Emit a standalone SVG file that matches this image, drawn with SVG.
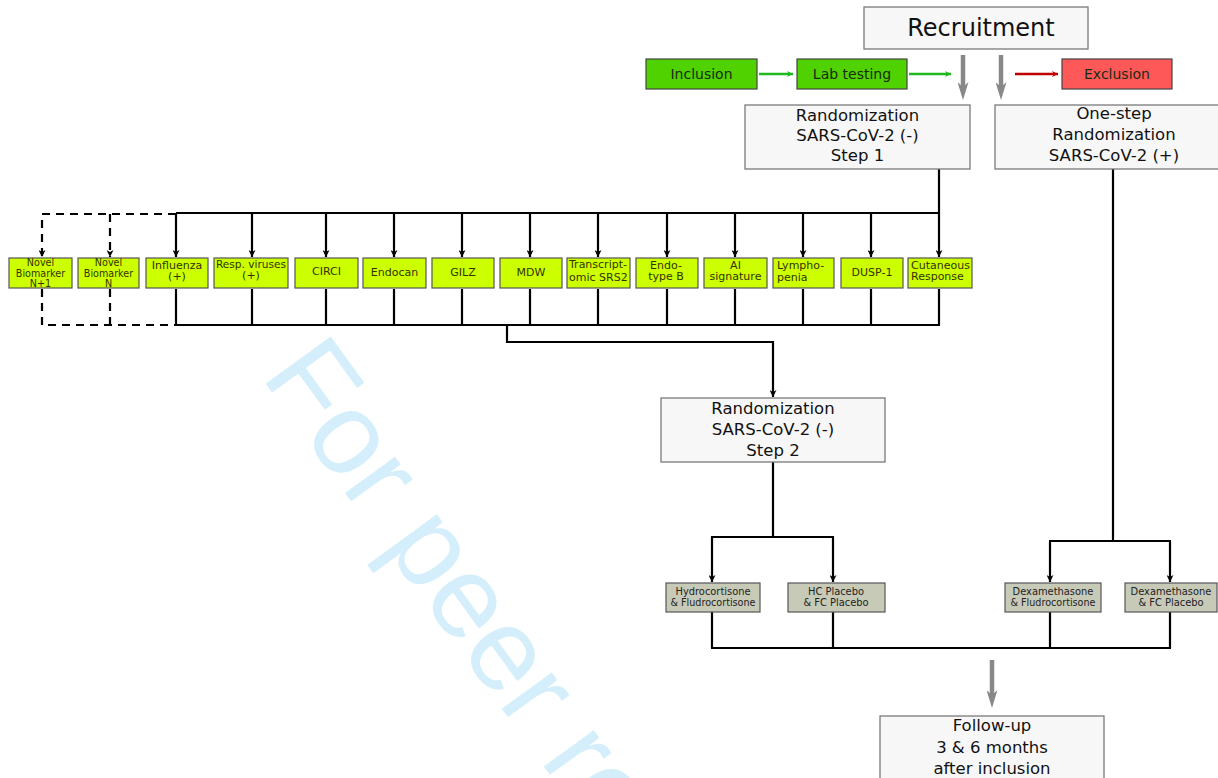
<svg xmlns="http://www.w3.org/2000/svg" width="1218" height="778" viewBox="0 0 1218 778">
<defs>
<style>
text{font-family:"DejaVu Sans","Verdana",sans-serif;}
.big{fill:#f7f7f7;stroke:#7a7a7a;stroke-width:1.3;}
.bt{font-size:16.5px;fill:#111;text-anchor:middle;}
.bio{fill:#ccff00;stroke:#555;stroke-width:1.2;}
.st{font-size:11px;fill:#333300;}
.nv{font-size:9.6px;fill:#333300;text-anchor:middle;}
.c{text-anchor:middle;}
.trt{fill:#c8cab8;stroke:#555;stroke-width:1.2;}
.tt{font-size:9.9px;fill:#222;text-anchor:middle;}
.grn{fill:#4fd200;stroke:#444;stroke-width:1.2;}
.red{fill:#ff5858;stroke:#444;stroke-width:1.2;}
.gt{font-size:14px;fill:#1a2a10;text-anchor:middle;}
.ln{fill:none;stroke:#000;stroke-width:2.2;}
.dash{fill:none;stroke:#000;stroke-width:2.2;stroke-dasharray:8,6;}
.gray{fill:none;stroke:#888;stroke-width:4.5;}
</style>
<marker id="ab" viewBox="0 0 10 10" refX="10" refY="5" markerWidth="9" markerHeight="7" markerUnits="userSpaceOnUse" orient="auto">
<path d="M0,0 L10,5 L0,10 L3,5 z" fill="#000"/>
</marker>
<marker id="ag" viewBox="0 0 10 10" refX="10" refY="5" markerWidth="9" markerHeight="6" markerUnits="userSpaceOnUse" orient="auto">
<path d="M0,0 L10,5 L0,10 L3,5 z" fill="#1fb81f"/>
</marker>
<marker id="ar" viewBox="0 0 10 10" refX="10" refY="5" markerWidth="9" markerHeight="6" markerUnits="userSpaceOnUse" orient="auto">
<path d="M0,0 L10,5 L0,10 L3,5 z" fill="#c00000"/>
</marker>
<marker id="agr" viewBox="0 0 18 11" refX="5" refY="5.5" markerWidth="18" markerHeight="11" markerUnits="userSpaceOnUse" orient="auto">
<path d="M0,0 L18,5.5 L0,11 L5,5.5 z" fill="#888"/>
</marker>
</defs>

<rect x="0" y="0" width="1218" height="778" fill="#fff"/>

<text x="260" y="376" transform="rotate(54 260 376)" style="font-family:'Liberation Sans',Arial,sans-serif;font-size:117px;fill:#d4effb;">For peer review</text>

<g id="connectors">
<line class="gray" x1="963" y1="55" x2="963" y2="87" marker-end="url(#agr)"/>
<line class="gray" x1="1001" y1="55" x2="1001" y2="87" marker-end="url(#agr)"/>
<line class="gray" x1="992" y1="660" x2="992" y2="695" marker-end="url(#agr)"/>
<line x1="759" y1="74" x2="793" y2="74" stroke="#1fb81f" stroke-width="2.5" marker-end="url(#ag)"/>
<line x1="909" y1="74" x2="951" y2="74" stroke="#1fb81f" stroke-width="2.5" marker-end="url(#ag)"/>
<line x1="1015" y1="74" x2="1058" y2="74" stroke="#c00000" stroke-width="2.5" marker-end="url(#ar)"/>

<path class="ln" d="M939,169 V213 M176,213 H940"/>
<line class="ln" x1="176" y1="213" x2="176" y2="257" marker-end="url(#ab)"/>
<line class="ln" x1="252" y1="213" x2="252" y2="257" marker-end="url(#ab)"/>
<line class="ln" x1="326" y1="213" x2="326" y2="257" marker-end="url(#ab)"/>
<line class="ln" x1="394" y1="213" x2="394" y2="257" marker-end="url(#ab)"/>
<line class="ln" x1="462" y1="213" x2="462" y2="257" marker-end="url(#ab)"/>
<line class="ln" x1="530" y1="213" x2="530" y2="257" marker-end="url(#ab)"/>
<line class="ln" x1="598" y1="213" x2="598" y2="257" marker-end="url(#ab)"/>
<line class="ln" x1="667" y1="213" x2="667" y2="257" marker-end="url(#ab)"/>
<line class="ln" x1="735" y1="213" x2="735" y2="257" marker-end="url(#ab)"/>
<line class="ln" x1="803" y1="213" x2="803" y2="257" marker-end="url(#ab)"/>
<line class="ln" x1="871" y1="213" x2="871" y2="257" marker-end="url(#ab)"/>
<line class="ln" x1="939" y1="213" x2="939" y2="257" marker-end="url(#ab)"/>

<path class="dash" d="M176,214 H42 V257" marker-end="url(#ab)"/>
<line class="dash" x1="110" y1="214" x2="110" y2="257" marker-end="url(#ab)"/>
<path class="dash" d="M42,289 V325 H176 M110,289 V325"/>

<path class="ln" d="M176,289 V325 M252,289 V325 M326,289 V325 M394,289 V325 M462,289 V325 M530,289 V325 M598,289 V325 M667,289 V325 M735,289 V325 M803,289 V325 M871,289 V325 M939,289 V325 M175,325 H940"/>
<path class="ln" d="M507,325 V342 H773 V397" marker-end="url(#ab)"/>

<path class="ln" d="M773,462 V537 M711,537 H834"/>
<line class="ln" x1="712" y1="537" x2="712" y2="582" marker-end="url(#ab)"/>
<line class="ln" x1="833" y1="537" x2="833" y2="582" marker-end="url(#ab)"/>
<path class="ln" d="M1113,169 V541 M1049,541 H1171"/>
<line class="ln" x1="1050" y1="541" x2="1050" y2="582" marker-end="url(#ab)"/>
<line class="ln" x1="1170" y1="541" x2="1170" y2="582" marker-end="url(#ab)"/>
<path class="ln" d="M712,612 V648 M833,612 V648 M1050,612 V648 M1170,612 V648 M711,648 H1171"/>
</g>

<g id="recruitment">
<rect class="big" x="864" y="7" width="224" height="42"/>
<text x="981" y="36" style="font-size:24px;fill:#111;text-anchor:middle;">Recruitment</text>
</g>
<g id="inclusion">
<rect class="grn" x="646" y="59" width="111" height="30"/>
<text class="gt" x="701.5" y="79">Inclusion</text>
</g>
<g id="lab-testing">
<rect class="grn" x="797" y="59" width="110" height="30"/>
<text class="gt" x="852" y="79">Lab testing</text>
</g>
<g id="exclusion">
<rect class="red" x="1062" y="59" width="110" height="30"/>
<text class="gt" x="1117" y="79">Exclusion</text>
</g>

<g id="randomization-step1">
<rect class="big" x="745" y="105" width="225" height="64"/>
<text class="bt" x="857.5" y="121">Randomization</text>
<text class="bt" x="857.5" y="141">SARS-CoV-2 (-)</text>
<text class="bt" x="857.5" y="161">Step 1</text>
</g>
<g id="one-step-randomization">
<rect class="big" x="995" y="105" width="240" height="64"/>
<text class="bt" x="1114" y="119">One-step</text>
<text class="bt" x="1114" y="140">Randomization</text>
<text class="bt" x="1114" y="161">SARS-CoV-2 (+)</text>
</g>

<g id="novel-biomarker-n1">
<rect class="bio" x="9" y="258" width="63" height="30"/>
<text class="nv" x="40.5" y="266">Novel</text>
<text class="nv" x="40.5" y="276.5">Biomarker</text>
<text class="nv" x="40.5" y="287">N+1</text>
</g>
<g id="novel-biomarker-n">
<rect class="bio" x="78" y="258" width="61" height="30"/>
<text class="nv" x="108.5" y="266">Novel</text>
<text class="nv" x="108.5" y="276.5">Biomarker</text>
<text class="nv" x="108.5" y="287">N</text>
</g>
<g id="influenza">
<rect class="bio" x="146" y="258" width="62" height="30"/>
<text class="st c" x="177" y="269">Influenza</text>
<text class="st c" x="177" y="280">(+)</text>
</g>
<g id="resp-viruses">
<rect class="bio" x="214" y="258" width="74" height="30"/>
<text class="st c" x="251" y="268" style="font-size:10.6px">Resp. viruses</text>
<text class="st c" x="251" y="279">(+)</text>
</g>
<g id="circi">
<rect class="bio" x="295" y="258" width="63" height="30"/>
<text class="st c" x="326.5" y="275">CIRCI</text>
</g>
<g id="endocan">
<rect class="bio" x="363" y="258" width="63" height="30"/>
<text class="st c" x="394.5" y="276">Endocan</text>
</g>
<g id="gilz">
<rect class="bio" x="432" y="258" width="62" height="30"/>
<text class="st c" x="463" y="276">GILZ</text>
</g>
<g id="mdw">
<rect class="bio" x="500" y="258" width="62" height="30"/>
<text class="st c" x="531" y="276">MDW</text>
</g>
<g id="transcriptomic-srs2">
<rect class="bio" x="567" y="258" width="63" height="30"/>
<text class="st" x="569" y="268">Transcript-</text>
<text class="st" x="569" y="281">omic SRS2</text>
</g>
<g id="endotype-b">
<rect class="bio" x="636" y="258" width="62" height="30"/>
<text class="st c" x="666" y="269">Endo-</text>
<text class="st c" x="666" y="280">type B</text>
</g>
<g id="ai-signature">
<rect class="bio" x="704" y="258" width="63" height="30"/>
<text class="st c" x="735.5" y="269">AI</text>
<text class="st c" x="735.5" y="280">signature</text>
</g>
<g id="lymphopenia">
<rect class="bio" x="773" y="258" width="61" height="30"/>
<text class="st" x="777" y="268.5">Lympho-</text>
<text class="st" x="777" y="281">penia</text>
</g>
<g id="dusp-1">
<rect class="bio" x="841" y="258" width="62" height="30"/>
<text class="st c" x="872" y="276">DUSP-1</text>
</g>
<g id="cutaneous-response">
<rect class="bio" x="908" y="258" width="64" height="30"/>
<text class="st" x="911" y="269">Cutaneous</text>
<text class="st" x="911" y="280">Response</text>
</g>

<g id="randomization-step2">
<rect class="big" x="661" y="398" width="224" height="64"/>
<text class="bt" x="773" y="414">Randomization</text>
<text class="bt" x="773" y="435">SARS-CoV-2 (-)</text>
<text class="bt" x="773" y="456">Step 2</text>
</g>

<g id="hydrocortisone-fludrocortisone">
<rect class="trt" x="666" y="583" width="94" height="29"/>
<text class="tt" x="713" y="595">Hydrocortisone</text>
<text class="tt" x="713" y="606" style="font-size:9.6px">&amp; Fludrocortisone</text>
</g>
<g id="hc-placebo-fc-placebo">
<rect class="trt" x="788" y="583" width="97" height="29"/>
<text class="tt" x="836" y="595">HC Placebo</text>
<text class="tt" x="836" y="606">&amp; FC Placebo</text>
</g>
<g id="dexamethasone-fludrocortisone">
<rect class="trt" x="1005" y="583" width="96" height="29"/>
<text class="tt" x="1053" y="595">Dexamethasone</text>
<text class="tt" x="1053" y="606" style="font-size:9.6px">&amp; Fludrocortisone</text>
</g>
<g id="dexamethasone-fc-placebo">
<rect class="trt" x="1125" y="583" width="92" height="29"/>
<text class="tt" x="1171" y="595">Dexamethasone</text>
<text class="tt" x="1171" y="606">&amp; FC Placebo</text>
</g>

<g id="follow-up">
<rect class="big" x="880" y="716" width="224" height="70"/>
<text class="bt" x="992" y="731">Follow-up</text>
<text class="bt" x="992" y="753">3 &amp; 6 months</text>
<text class="bt" x="992" y="774">after inclusion</text>
</g>
</svg>
